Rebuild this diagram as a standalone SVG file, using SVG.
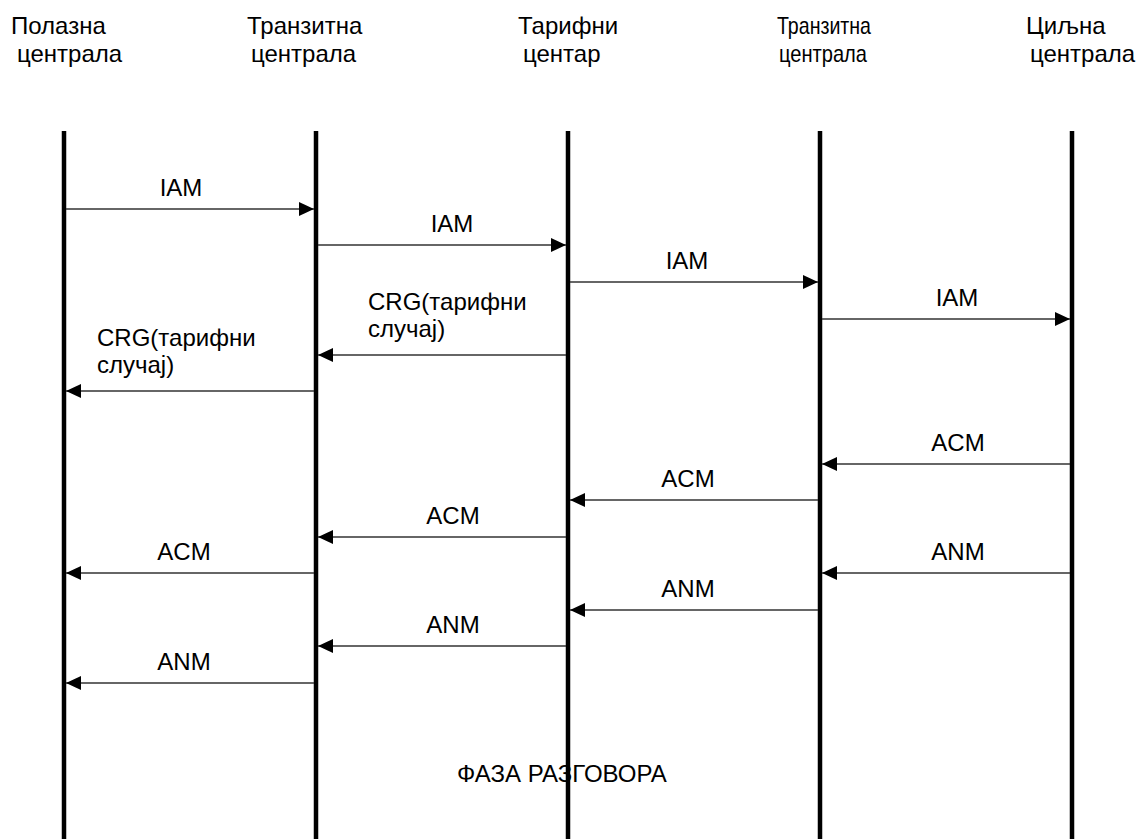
<svg xmlns="http://www.w3.org/2000/svg" width="1143" height="839" viewBox="0 0 1143 839">
<style>
text{font-family:"Liberation Sans",Arial,sans-serif;font-size:24px;fill:#000}
.lab{text-anchor:middle}
.life{stroke:#000;stroke-width:4.5}
.msg{stroke:#333;stroke-width:1.5;fill:none;marker-end:url(#ah)}
</style>
<defs>
<marker id="ah" markerUnits="userSpaceOnUse" markerWidth="16" markerHeight="14" refX="15" refY="7" orient="auto">
<path d="M0,0 L15,7 L0,14 z" fill="#000"/>
</marker>
</defs>
<rect width="1143" height="839" fill="#fff"/>
<g id="node-polazna">
<line class="life" x1="64" y1="131" x2="64" y2="839"/>
<text x="11" y="34">Полазна</text>
<text x="17" y="62">централа</text>
</g>
<g id="node-tranzitna1">
<line class="life" x1="316" y1="131" x2="316" y2="839"/>
<text x="247" y="34">Транзитна</text>
<text x="251" y="62">централа</text>
</g>
<g id="node-tarifni">
<line class="life" x1="568" y1="131" x2="568" y2="839"/>
<text x="518" y="34">Тарифни</text>
<text x="523" y="62">центар</text>
</g>
<g id="node-tranzitna2">
<line class="life" x1="820" y1="131" x2="820" y2="839"/>
<text x="777" y="34" textLength="94" lengthAdjust="spacingAndGlyphs">Транзитна</text>
<text x="779" y="62" textLength="88" lengthAdjust="spacingAndGlyphs">централа</text>
</g>
<g id="node-ciljna">
<line class="life" x1="1072" y1="131" x2="1072" y2="839"/>
<text x="1026" y="34">Циљна</text>
<text x="1030" y="62">централа</text>
</g>
<g id="connectors">
<line class="msg" x1="66" y1="209" x2="314" y2="209"/>
<text class="lab" x="181" y="196">IAM</text>
<line class="msg" x1="318" y1="245" x2="566" y2="245"/>
<text class="lab" x="452" y="232">IAM</text>
<line class="msg" x1="570" y1="282" x2="818" y2="282"/>
<text class="lab" x="687" y="269">IAM</text>
<line class="msg" x1="822" y1="319" x2="1070" y2="319"/>
<text class="lab" x="957" y="306">IAM</text>
<line class="msg" x1="566" y1="355" x2="318" y2="355"/>
<text x="368" y="310">CRG(тарифни</text>
<text x="368" y="337">случај)</text>
<line class="msg" x1="314" y1="391" x2="66" y2="391"/>
<text x="97" y="346">CRG(тарифни</text>
<text x="97" y="373">случај)</text>
<line class="msg" x1="1070" y1="464" x2="822" y2="464"/>
<text class="lab" x="958" y="451">ACM</text>
<line class="msg" x1="818" y1="500" x2="570" y2="500"/>
<text class="lab" x="688" y="487">ACM</text>
<line class="msg" x1="566" y1="537" x2="318" y2="537"/>
<text class="lab" x="453" y="524">ACM</text>
<line class="msg" x1="314" y1="573" x2="66" y2="573"/>
<text class="lab" x="184" y="560">ACM</text>
<line class="msg" x1="1070" y1="573" x2="822" y2="573"/>
<text class="lab" x="958" y="560">ANM</text>
<line class="msg" x1="818" y1="610" x2="570" y2="610"/>
<text class="lab" x="688" y="597">ANM</text>
<line class="msg" x1="566" y1="646" x2="318" y2="646"/>
<text class="lab" x="453" y="633">ANM</text>
<line class="msg" x1="314" y1="683" x2="66" y2="683"/>
<text class="lab" x="184" y="670">ANM</text>
</g>
<text x="457" y="782">ФАЗА РАЗГОВОРА</text>
</svg>
